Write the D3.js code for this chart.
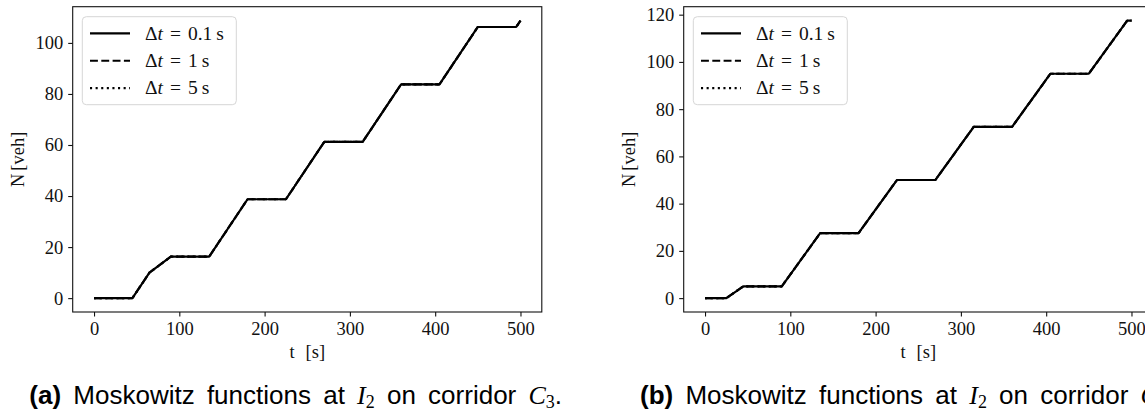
<!DOCTYPE html>
<html><head><meta charset="utf-8">
<script src="https://cdn.jsdelivr.net/npm/d3@7"></script>
<style>body{margin:0;background:#fff;overflow:hidden}</style>
</head><body>
<svg id="chart" width="1145" height="412" xmlns="http://www.w3.org/2000/svg"></svg>
<script>
// ---------- data ----------
const seriesNames = ["0.1", "1", "5"];          // Δt values in seconds
const seriesDash  = ["none", "7.9,3.4", "2.1,3.5"];
const xTicks  = [0, 100, 200, 300, 400, 500];
const yTicksA = [0, 20, 40, 60, 80, 100];
const yTicksB = [0, 20, 40, 60, 80, 100, 120];

// (a) corridor C3 — time [s] and cumulative vehicles N [veh]
const tA      = [0, 45, 65, 90, 135, 180, 225, 270, 315, 360, 405, 450, 495, 500];
const nA_dt01 = [0, 0, 10, 16.25, 16.25, 38.75, 38.75, 61.25, 61.25, 83.75, 83.75, 106.25, 106.25, 108.75];
const nA_dt1  = [0, 0, 10, 16.25, 16.25, 38.75, 38.75, 61.25, 61.25, 83.75, 83.75, 106.25, 106.25, 108.75];
const nA_dt5  = [0, 0, 10, 16.25, 16.25, 38.75, 38.75, 61.25, 61.25, 83.75, 83.75, 106.25, 106.25, 108.75];

// (b) second corridor
const tB      = [0, 25, 45, 90, 135, 180, 225, 270, 315, 360, 405, 450, 495, 500];
const nB_dt01 = [0, 0, 5, 5, 27.5, 27.5, 50, 50, 72.5, 72.5, 95, 95, 117.5, 117.5];
const nB_dt1  = [0, 0, 5, 5, 27.5, 27.5, 50, 50, 72.5, 72.5, 95, 95, 117.5, 117.5];
const nB_dt5  = [0, 0, 5, 5, 27.5, 27.5, 50, 50, 72.5, 72.5, 95, 95, 117.5, 117.5];

// ---------- drawing ----------
const svg = d3.select("#chart");
svg.append("rect").attr("width", 1145).attr("height", 412).attr("fill", "#fff");

const SERIF = "'Liberation Serif', 'DejaVu Serif', serif";
const SANS = "'Liberation Sans', Arial, sans-serif";
const tickFont = 18.5;

function panel(opts) {
  const {x0, x1, y0, y1, t, series, yTicks} = opts;
  const g = svg.append("g");
  const allN = series.flat();
  const nMax = d3.max(allN), nMin = d3.min(allN);
  const nR = nMax - nMin;
  const tMin = d3.min(t), tMax = d3.max(t), tR = tMax - tMin;
  const x = d3.scaleLinear().domain([tMin - 0.05 * tR, tMax + 0.05 * tR]).range([x0, x1]);
  const y = d3.scaleLinear().domain([nMin - 0.05 * nR, nMax + 0.05 * nR]).range([y1, y0]);

  // lines
  const line = d3.line().x((d, i) => x(t[i])).y(d => y(d));
  series.forEach((s, k) => {
    g.append("path").datum(s).attr("d", line)
      .attr("fill", "none").attr("stroke", "#000").attr("stroke-width", 2.15)
      .attr("stroke-dasharray", seriesDash[k]).attr("stroke-linejoin", "round");
  });

  // axes
  const xa = g.append("g").attr("transform", `translate(0,${y1})`)
    .call(d3.axisBottom(x).tickValues(xTicks).tickSize(4.5).tickSizeOuter(0).tickPadding(5.5).tickFormat(d3.format("d")));
  const ya = g.append("g").attr("transform", `translate(${x0},0)`)
    .call(d3.axisLeft(y).tickValues(yTicks).tickSize(4.5).tickSizeOuter(0).tickPadding(5).tickFormat(d3.format("d")));
  [xa, ya].forEach(a => {
    a.select(".domain").remove();
    a.selectAll("line").attr("stroke", "#111").attr("stroke-width", 1.1);
    a.selectAll("text").attr("font-family", SERIF).attr("font-size", tickFont).attr("fill", "#111");
  });

  // frame
  g.append("rect").attr("x", x0).attr("y", y0).attr("width", x1 - x0).attr("height", y1 - y0)
    .attr("fill", "none").attr("stroke", "#111").attr("stroke-width", 1.1);

  // axis labels
  const xl = g.append("text").attr("x", (x0 + x1) / 2).attr("y", 358).attr("text-anchor", "middle")
    .attr("font-family", SERIF).attr("font-size", tickFont).attr("fill", "#111");
  xl.append("tspan").text("t");
  xl.append("tspan").attr("dx", 11).text("[s]");
  const yl = g.append("text").attr("transform", `translate(${x0 - 48.5},${(y0 + y1) / 2}) rotate(-90)`)
    .attr("text-anchor", "middle").attr("font-family", SERIF).attr("font-size", tickFont)
    .attr("fill", "#111");
  yl.append("tspan").text("N");
  yl.append("tspan").attr("dx", 3).text("[veh]");

  // legend
  const lg = g.append("g").attr("transform", `translate(${x0 + 9.6},${y0 + 10})`);
  lg.append("rect").attr("width", 154).attr("height", 88).attr("rx", 4)
    .attr("fill", "#fff").attr("fill-opacity", 0.8).attr("stroke", "#d6d6d6").attr("stroke-width", 1);
  seriesNames.forEach((nm, k) => {
    const cy = 16.6 + k * 27.4;
    lg.append("line").attr("x1", 7.7).attr("x2", 47.7).attr("y1", cy).attr("y2", cy)
      .attr("stroke", "#000").attr("stroke-width", 2.15).attr("stroke-dasharray", seriesDash[k]);
    const tx = lg.append("text").attr("x", 62.7).attr("y", cy + 6.3)
      .attr("font-family", SERIF).attr("font-size", 19.5).attr("fill", "#111");
    tx.append("tspan").text("Δ");
    tx.append("tspan").attr("font-style", "italic").text("t");
    tx.append("tspan").attr("dx", 7).text("=");
    tx.append("tspan").attr("dx", 7).text(nm);
    tx.append("tspan").attr("dx", 4).text("s");
  });
  return g;
}

panel({x0: 72.7, x1: 541.8, y0: 6.7, y1: 312, t: tA, series: [nA_dt01, nA_dt1, nA_dt5], yTicks: yTicksA});
panel({x0: 683.7, x1: 1152.8, y0: 6.7, y1: 312, t: tB, series: [nB_dt01, nB_dt1, nB_dt5], yTicks: yTicksB});

// captions
function caption(xp, label, corridorIdx) {
  const tx = svg.append("text").attr("x", xp).attr("y", 404)
    .attr("font-family", SANS).attr("font-size", 26).attr("word-spacing", 5).attr("fill", "#000");
  tx.append("tspan").attr("font-weight", "bold").text(label);
  tx.append("tspan").text(" Moskowitz functions at ");
  tx.append("tspan").attr("font-family", SERIF).attr("font-style", "italic").text("I");
  tx.append("tspan").attr("font-family", SERIF).attr("font-size", 18).attr("dy", 4).text("2");
  tx.append("tspan").attr("dy", -4).text(" on corridor ");
  tx.append("tspan").attr("font-family", SERIF).attr("font-style", "italic").text("C");
  tx.append("tspan").attr("font-family", SERIF).attr("font-size", 18).attr("dy", 4).text(corridorIdx);
  tx.append("tspan").attr("dy", -4).text(".");
}
caption(29.3, "(a)", "3");
caption(640, "(b)", "4");
</script>
</body></html>
